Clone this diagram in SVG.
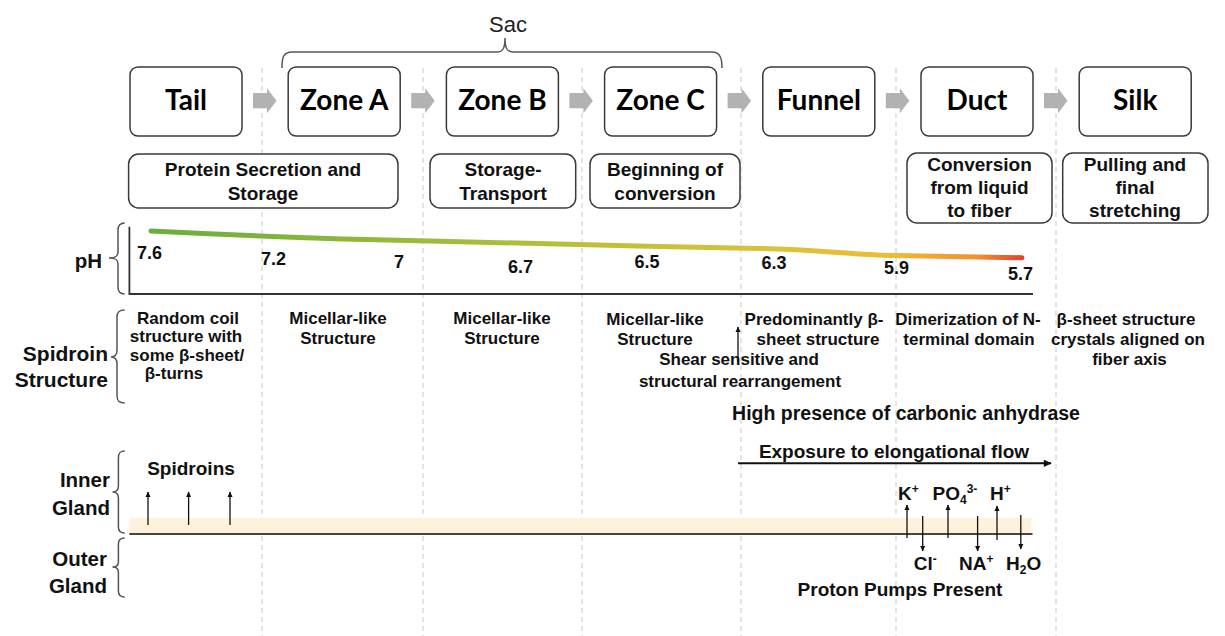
<svg xmlns="http://www.w3.org/2000/svg" width="1225" height="636" viewBox="0 0 1225 636">
<defs>
<style>
.dash{stroke:#c9c9c9;stroke-width:1;stroke-dasharray:5 4;fill:none}
.box{fill:#fff;stroke:#3a3a3a;stroke-width:1.5}
.stage{font-family:Lato,"Liberation Sans",sans-serif;font-weight:700;font-size:28px;fill:#000;text-anchor:middle}
.b{font-family:"Liberation Sans",Arial,sans-serif;font-weight:700;fill:#111}
.r{font-family:"Liberation Sans",Arial,sans-serif;font-weight:400;fill:#222}
.c{text-anchor:middle}
.e{text-anchor:end}
.f17{font-size:17px}
.f18{font-size:18px}
.f19{font-size:19px}
.f21{font-size:21px}
.br{fill:none;stroke:#555;stroke-width:1.5}
.ga{fill:#b2b2b2}
.ar{stroke:#111;stroke-width:1.3;fill:none;marker-end:url(#ah)}
.sm{font-size:12px}
</style>
<linearGradient id="phg" gradientUnits="userSpaceOnUse" x1="151" y1="0" x2="1022" y2="0">
<stop offset="0" stop-color="#6aad3d"/>
<stop offset="0.3" stop-color="#98bb3c"/>
<stop offset="0.5" stop-color="#bcbf3a"/>
<stop offset="0.7" stop-color="#d8c23b"/>
<stop offset="0.85" stop-color="#efbb34"/>
<stop offset="0.95" stop-color="#f09030"/>
<stop offset="1" stop-color="#e2452a"/>
</linearGradient>
<marker id="ah" viewBox="0 0 10 10" refX="9" refY="5" markerWidth="6" markerHeight="6" orient="auto" markerUnits="userSpaceOnUse">
<path d="M0,0.5 L10,5 L0,9.5 z" fill="#111"/>
</marker>
<marker id="ahL" viewBox="0 0 10 10" refX="9" refY="5" markerWidth="9" markerHeight="8" orient="auto" markerUnits="userSpaceOnUse">
<path d="M0,0.5 L10,5 L0,9.5 z" fill="#111"/>
</marker>
</defs>
<rect x="0" y="0" width="1225" height="636" fill="#fff"/>

<g id="guides">
<line class="dash" x1="262" y1="68" x2="262" y2="636"/>
<line class="dash" x1="423" y1="68" x2="423" y2="636"/>
<line class="dash" x1="582" y1="68" x2="582" y2="636"/>
<line class="dash" x1="741" y1="68" x2="741" y2="636"/>
<line class="dash" x1="896" y1="68" x2="896" y2="636"/>
<line class="dash" x1="1056" y1="68" x2="1056" y2="636"/>
</g>

<g id="membrane">
<rect x="129.4" y="518" width="902" height="15" fill="#fdf2dc"/>
<line x1="129.4" y1="534" x2="1032.5" y2="534" stroke="#444" stroke-width="2"/>
</g>

<g id="sac">
<text class="r c" x="508" y="31.5" font-size="22">Sac</text>
<path class="br" d="M282,68 C282,58 283,52 292,52 L497,52 C503,52 505,48 505,38 C505,48 507,52 513,52 L712,52 C720,52 722,58 722,68"/>
</g>

<g id="node-tail"><rect class="box" x="130" y="67" width="112" height="69" rx="8"/><text class="stage" x="186" y="110">Tail</text></g>
<g id="node-zonea"><rect class="box" x="288.2" y="67" width="112" height="69" rx="8"/><text class="stage" x="344.2" y="110">Zone A</text></g>
<g id="node-zoneb"><rect class="box" x="446.4" y="67" width="112" height="69" rx="8"/><text class="stage" x="502.4" y="110">Zone B</text></g>
<g id="node-zonec"><rect class="box" x="604.6" y="67" width="112" height="69" rx="8"/><text class="stage" x="660.6" y="110">Zone C</text></g>
<g id="node-funnel"><rect class="box" x="762.8" y="67" width="112" height="69" rx="8"/><text class="stage" x="818.8" y="110">Funnel</text></g>
<g id="node-duct"><rect class="box" x="921" y="67" width="112" height="69" rx="8"/><text class="stage" x="977" y="110">Duct</text></g>
<g id="node-silk"><rect class="box" x="1079.2" y="67" width="112" height="69" rx="8"/><text class="stage" x="1135.2" y="110">Silk</text></g>

<g id="connectors">
<path class="ga" d="M253,93 H267 V88.3 L276.5,100.7 L267,113.3 V108.3 H253 Z"/>
<path class="ga" d="M411.2,93 H425.2 V88.3 L434.7,100.7 L425.2,113.3 V108.3 H411.2 Z"/>
<path class="ga" d="M569.4,93 H583.4 V88.3 L592.9,100.7 L583.4,113.3 V108.3 H569.4 Z"/>
<path class="ga" d="M727.6,93 H741.6 V88.3 L751.1,100.7 L741.6,113.3 V108.3 H727.6 Z"/>
<path class="ga" d="M885.8,93 H899.8 V88.3 L909.3,100.7 L899.8,113.3 V108.3 H885.8 Z"/>
<path class="ga" d="M1044,93 H1058 V88.3 L1067.5,100.7 L1058,113.3 V108.3 H1044 Z"/>
<line class="ar" x1="738" y1="362" x2="738" y2="327"/>
<line x1="738" y1="463.3" x2="1051" y2="463.3" stroke="#111" stroke-width="2" marker-end="url(#ahL)"/>
<line class="ar" x1="148" y1="525" x2="148" y2="492"/>
<line class="ar" x1="188.6" y1="525" x2="188.6" y2="492"/>
<line class="ar" x1="230" y1="525" x2="230" y2="492"/>
<line class="ar" x1="907" y1="538" x2="907" y2="505"/>
<line class="ar" x1="948" y1="538" x2="948" y2="505"/>
<line class="ar" x1="997" y1="540" x2="997" y2="506"/>
<line class="ar" x1="922.7" y1="516" x2="922.7" y2="551"/>
<line class="ar" x1="977.6" y1="516" x2="977.6" y2="551"/>
<line class="ar" x1="1020.8" y1="515" x2="1020.8" y2="549"/>
</g>

<g id="role-secretion"><rect class="box" x="128.6" y="154" width="269.4" height="54" rx="10"/>
<text class="b c f19" x="263" y="176">Protein Secretion and</text><text class="b c f19" x="263" y="199.5">Storage</text></g>
<g id="role-transport"><rect class="box" x="430" y="154" width="145.7" height="54" rx="10"/>
<text class="b c f19" x="503" y="176">Storage-</text><text class="b c f19" x="503" y="199.5">Transport</text></g>
<g id="role-conversion"><rect class="box" x="590" y="154" width="150" height="54" rx="10"/>
<text class="b c f19" x="665" y="176">Beginning of</text><text class="b c f19" x="665" y="200">conversion</text></g>
<g id="role-fiber"><rect class="box" x="907" y="153" width="145" height="70" rx="10"/>
<text class="b c f19" x="979.5" y="170.7">Conversion</text><text class="b c f19" x="979.5" y="194">from liquid</text><text class="b c f19" x="979.5" y="217.3">to fiber</text></g>
<g id="role-stretch"><rect class="box" x="1062.7" y="153" width="145.3" height="70" rx="10"/>
<text class="b c f19" x="1135" y="170.7">Pulling and</text><text class="b c f19" x="1135" y="194">final</text><text class="b c f19" x="1135" y="217.3">stretching</text></g>

<g id="ph">
<text class="b e" x="102" y="268" font-size="20.5">pH</text>
<path class="br" d="M124.7,223 C120,223 118,225 118,230 L118,252 C118,256 116,258 109,258 C116,258 118,260 118,264 L118,287 C118,292 120,294 124.7,294"/>
<path d="M129.4,226.7 V294 H1033" fill="none" stroke="#333" stroke-width="1.8"/>
<path d="M151,231 C230,235 330,239 430,241 C530,243.5 650,246.5 760,248.5 C820,249.8 850,254.5 895,255.5 C950,256.8 990,257.5 1022,257.7" fill="none" stroke="url(#phg)" stroke-width="5" stroke-linecap="round"/>
<text class="b f18" x="137" y="259">7.6</text>
<text class="b f18" x="261" y="265">7.2</text>
<text class="b f18" x="394" y="268">7</text>
<text class="b f18" x="508" y="273">6.7</text>
<text class="b f18" x="634.5" y="268">6.5</text>
<text class="b f18" x="761.6" y="269">6.3</text>
<text class="b f18" x="884" y="274">5.9</text>
<text class="b f18" x="1008" y="280">5.7</text>
</g>

<g id="spidroin">
<text class="b e f21" x="108" y="361">Spidroin</text>
<text class="b e f21" x="108" y="387">Structure</text>
<path class="br" d="M124.7,310 C119,310 117,312 117,317 L117,350 C117,355 115,357 111,357 C115,357 117,359 117,364 L117,396 C117,401 119,403 124.7,403"/>
<text class="b c f17" x="188" y="324">Random coil</text>
<text class="b c f17" x="186" y="342.3">structure with</text>
<text class="b c f17" x="187" y="360.6">some β-sheet/</text>
<text class="b c f17" x="174" y="379">β-turns</text>
<text class="b c f17" x="338" y="324">Micellar-like</text><text class="b c f17" x="338" y="344">Structure</text>
<text class="b c f17" x="502" y="324">Micellar-like</text><text class="b c f17" x="502" y="344">Structure</text>
<text class="b c f17" x="655" y="325">Micellar-like</text><text class="b c f17" x="655" y="345">Structure</text>
<text class="b c f17" x="814" y="325">Predominantly β-</text><text class="b c f17" x="818" y="345">sheet structure</text>
<text class="b c f17" x="968" y="325">Dimerization of N-</text><text class="b c f17" x="969" y="345">terminal domain</text>
<text class="b c f17" x="1126" y="325">β-sheet structure</text><text class="b c f17" x="1128" y="345">crystals aligned on</text><text class="b c f17" x="1129.5" y="365">fiber axis</text>
<text class="b c f17" x="739" y="365">Shear sensitive and</text>
<text class="b c f17" x="740" y="386.5">structural rearrangement</text>
</g>

<g id="flow">
<text class="b c" x="906" y="420" font-size="19.5">High presence of carbonic anhydrase</text>
<text class="b c f19" x="894" y="457.5">Exposure to elongational flow</text>
</g>

<g id="glands">
<text class="b e" x="110" y="487.3" font-size="20.5">Inner</text>
<text class="b e" x="110" y="515" font-size="20.5">Gland</text>
<text class="b e" x="107" y="565.7" font-size="20.5">Outer</text>
<text class="b e" x="107" y="592.7" font-size="20.5">Gland</text>
<path class="br" d="M124.7,451 C120,451 118.4,453 118.4,458 L118.4,486 C118.4,490 116.5,492 112.5,492 C116.5,492 118.4,494 118.4,498 L118.4,527 C118.4,531 120,533 124.7,533"/>
<path class="br" d="M124.7,538 C120,538 118.4,540 118.4,544 L118.4,562 C118.4,565 116.5,567 112.5,567 C116.5,567 118.4,569 118.4,572 L118.4,591 C118.4,595 120,597 124.7,597"/>
<text class="b c f19" x="191" y="475">Spidroins</text>
</g>

<g id="ions">
<text class="b f19" x="898" y="500">K<tspan class="sm" dy="-7">+</tspan></text>
<text class="b f19" x="932.5" y="500">PO<tspan class="sm" dy="4">4</tspan><tspan class="sm" dy="-11">3-</tspan></text>
<text class="b f19" x="990" y="500">H<tspan class="sm" dy="-7">+</tspan></text>
<text class="b f19" x="913.7" y="570">Cl<tspan class="sm" dy="-7">-</tspan></text>
<text class="b f19" x="959" y="570">NA<tspan class="sm" dy="-7">+</tspan></text>
<text class="b f19" x="1006" y="570">H<tspan class="sm" dy="4">2</tspan><tspan dy="-4">O</tspan></text>
<text class="b c f19" x="900" y="595.5">Proton Pumps Present</text>
</g>
</svg>
